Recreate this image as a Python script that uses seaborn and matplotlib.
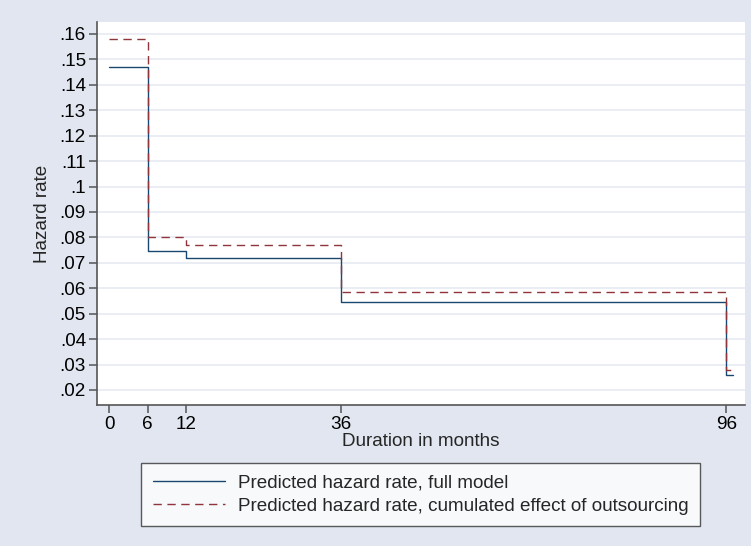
import matplotlib
matplotlib.use("Agg")
import matplotlib.pyplot as plt
import seaborn as sns
import pandas as pd

# step points (months) and predicted hazard rates
months = [0, 6, 12, 36, 96, 97]
hazard_full = [0.147, 0.0745, 0.072, 0.0545, 0.026, 0.026]
hazard_outsourcing = [0.158, 0.080, 0.077, 0.0585, 0.028, 0.028]
x_ticks = [0, 6, 12, 36, 96]
y_ticks = [0.02, 0.03, 0.04, 0.05, 0.06, 0.07, 0.08, 0.09, 0.10,
           0.11, 0.12, 0.13, 0.14, 0.15, 0.16]
label_full = "Predicted hazard rate, full model"
label_out = "Predicted hazard rate, cumulated effect of outsourcing"

df = pd.DataFrame({"months": months, "full": hazard_full, "out": hazard_outsourcing})

sns.set_style("ticks")
plt.rcParams["font.family"] = ["Liberation Sans", "DejaVu Sans"]
fs = 13.6

bg = "#e1e6f0"
fig = plt.figure(figsize=(7.51, 5.46), dpi=100, facecolor=bg)
ax = fig.add_axes([97 / 751, 1 - 405 / 546, (745 - 97) / 751, (405 - 22) / 546])
ax.set_facecolor("white")

for y in y_ticks:
    ax.axhline(y, color="#e4e9f1", lw=1.1, zorder=0)

sns.lineplot(data=df, x="months", y="full", drawstyle="steps-post", color="#1a476f",
             lw=1.0, ax=ax, label=label_full, legend=False)
sns.lineplot(data=df, x="months", y="out", drawstyle="steps-post", color="#90353b",
             lw=1.0, ax=ax, label=label_out, legend=False, linestyle=(0, (6, 4)))

ax.set_xlim(-1.9, 98.9)
ax.set_ylim(0.0141, 0.1647)
ax.set_xticks(x_ticks)
ax.set_xticklabels([str(t) for t in x_ticks])
ax.set_yticks(y_ticks)
ax.set_yticklabels([("%.2f" % t).lstrip("0").rstrip("0") for t in y_ticks])

for s in ["top", "right"]:
    ax.spines[s].set_visible(False)
for s in ["left", "bottom"]:
    ax.spines[s].set_color("#555555")
    ax.spines[s].set_linewidth(1.2)
ax.tick_params(axis="both", direction="out", length=6, width=1.1, color="#555555",
               labelsize=fs, labelcolor="black", pad=2, bottom=True, left=True)

ax.set_xlabel("Duration in months", fontsize=fs, labelpad=0)
ax.set_ylabel("Hazard rate", fontsize=fs, labelpad=6)

handles, labels = ax.get_legend_handles_labels()
leg = fig.legend(handles, labels, loc="center", bbox_to_anchor=(420.5 / 751, 1 - 494.5 / 546),
                 frameon=True, fancybox=False, edgecolor="#333333", fontsize=fs,
                 handlelength=3.85, borderpad=0.6, labelspacing=0.35, handletextpad=0.65)
leg.get_frame().set_linewidth(1.0)

fig.savefig("out.png", dpi=100, facecolor=bg)
